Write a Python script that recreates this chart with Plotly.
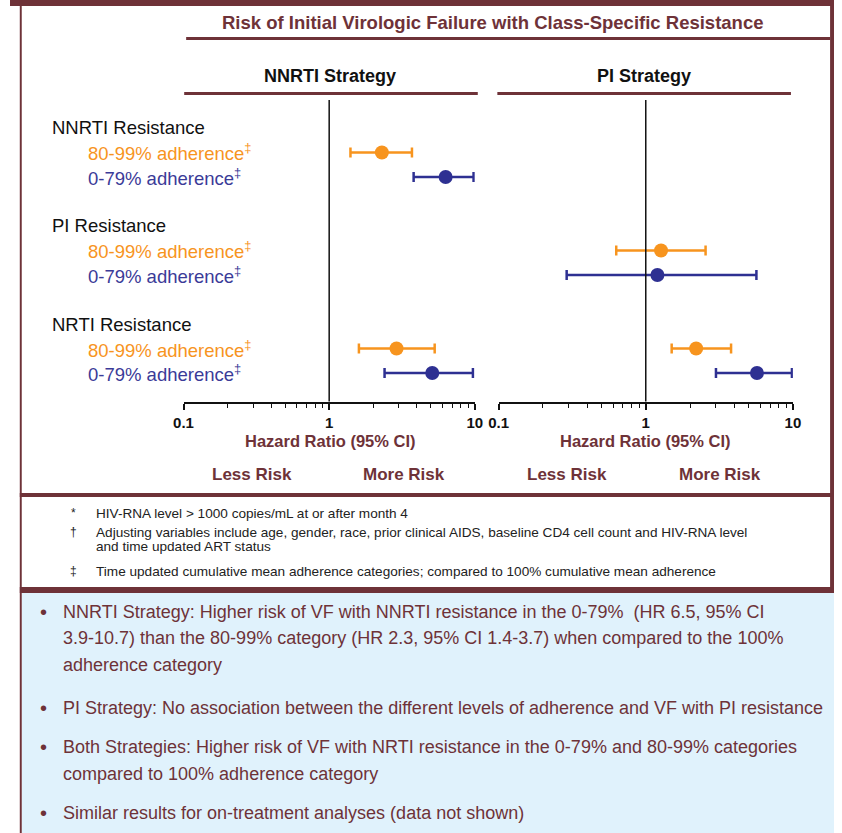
import plotly.graph_objects as go

# ---------------- data ----------------
groups = ["NNRTI Resistance", "PI Resistance", "NRTI Resistance"]
adherence_labels = ["80-99% adherence", "0-79% adherence"]

# NNRTI strategy panel (hazard ratio, lower CI, upper CI) per resistance group
nnrti_hr_80 = [2.3, None, 2.9]
nnrti_lo_80 = [1.4, None, 1.6]
nnrti_hi_80 = [3.7, None, 5.3]
nnrti_hr_0 = [6.3, None, 5.1]
nnrti_lo_0 = [3.8, None, 2.4]
nnrti_hi_0 = [9.8, None, 9.7]

# PI strategy panel
pi_hr_80 = [None, 1.27, 2.2]
pi_lo_80 = [None, 0.63, 1.5]
pi_hi_80 = [None, 2.55, 3.8]
pi_hr_0 = [None, 1.2, 5.7]
pi_lo_0 = [None, 0.29, 3.0]
pi_hi_0 = [None, 5.65, 9.85]

tick_vals = [0.1, 1, 10]
tick_text = ["0.1", "1", "10"]
minor_vals = [0.2, 0.3, 0.4, 0.5, 0.6, 0.7, 0.8, 0.9, 2, 3, 4, 5, 6, 7, 8, 9]

title_text = "Risk of Initial Virologic Failure with Class-Specific Resistance"
panel_titles = ["NNRTI Strategy", "PI Strategy"]
axis_title = "Hazard Ratio (95% CI)"
risk_labels = ["Less Risk", "More Risk"]

footnote_marks = ["*", "†", "‡"]
footnote_lines = [
    ["HIV-RNA level > 1000 copies/mL at or after month 4"],
    ["Adjusting variables include age, gender, race, prior clinical AIDS, baseline CD4 cell count and HIV-RNA level",
     "and time updated ART status"],
    ["Time updated cumulative mean adherence categories; compared to 100% cumulative mean adherence"],
]
bullet_lines = [
    ["NNRTI Strategy: Higher risk of VF with NNRTI resistance in the 0-79%  (HR 6.5, 95% CI",
     "3.9-10.7) than the 80-99% category (HR 2.3, 95% CI 1.4-3.7) when compared to the 100%",
     "adherence category"],
    ["PI Strategy: No association between the different levels of adherence and VF with PI resistance"],
    ["Both Strategies: Higher risk of VF with NRTI resistance in the 0-79% and 80-99% categories",
     "compared to 100% adherence category"],
    ["Similar results for on-treatment analyses (data not shown)"],
]

# ---------------- style ----------------
W, H = 842, 833
MAROON = "#6E3238"
ORANGE = "#F7941E"
BLUE = "#2E3092"
BLUE_TXT = "#3B3B98"
LIGHTBLUE = "#E0F2FC"
NARROW = "Liberation Sans Narrow, Arial Narrow, Liberation Sans, Arial, sans-serif"
SANS = "Liberation Sans, Arial, sans-serif"


def px(x):
    return x / W


def py(y):
    return 1 - y / H


def rows(g):
    return 4 * g, 4 * g + 1, 4 * g + 2


fig = go.Figure()


def add_series(hr, lo, hi, color, offset, xaxis, name):
    ys, xs, plus, minus = [], [], [], []
    for g in range(len(groups)):
        if hr[g] is None:
            continue
        ys.append(rows(g)[offset])
        xs.append(hr[g])
        plus.append(hi[g] - hr[g])
        minus.append(hr[g] - lo[g])
    fig.add_trace(go.Scatter(
        x=xs, y=ys, mode="markers", name=name, xaxis=xaxis, yaxis="y",
        marker=dict(color=color, size=14, line=dict(width=0)),
        error_x=dict(type="data", symmetric=False, array=plus, arrayminus=minus,
                     color=color, thickness=2.5, width=5),
        showlegend=False, hoverinfo="x+y",
    ))


add_series(nnrti_hr_80, nnrti_lo_80, nnrti_hi_80, ORANGE, 1, "x", adherence_labels[0])
add_series(nnrti_hr_0, nnrti_lo_0, nnrti_hi_0, BLUE, 2, "x", adherence_labels[1])
add_series(pi_hr_80, pi_lo_80, pi_hi_80, ORANGE, 1, "x2", adherence_labels[0])
add_series(pi_hr_0, pi_lo_0, pi_hi_0, BLUE, 2, "x2", adherence_labels[1])

axis_common = dict(
    type="log", range=[-1, 1], showgrid=False, zeroline=False,
    showline=True, linecolor="#111", linewidth=2,
    ticks="outside", ticklen=6, tickwidth=1.5, tickcolor="#111",
    tickvals=tick_vals, ticktext=tick_text,
    tickfont=dict(family=NARROW, size=15, color="#111", weight="bold"),
    minor=dict(ticks="outside", ticklen=4, tickwidth=1.2, tickcolor="#111", tickvals=minor_vals, showgrid=False),
    anchor="y", fixedrange=True,
)
y_top, y_bot = 100, 401.5
row_px = 24.5
row0_px = 128

fig.update_layout(
    width=W, height=H,
    margin=dict(l=0, r=0, t=0, b=0),
    paper_bgcolor="white", plot_bgcolor="rgba(0,0,0,0)",
    xaxis=dict(domain=[px(177.3), px(475)], **axis_common),
    xaxis2=dict(domain=[px(499.3), px(800)], **axis_common),
    yaxis=dict(domain=[py(y_bot), py(y_top)],
               range=[(y_bot - row0_px) / row_px, (y_top - row0_px) / row_px],
               visible=False, fixedrange=True),
)

shapes = []


def rect(x0, y0, x1, y1, color):
    shapes.append(dict(type="rect", xref="paper", yref="paper",
                       x0=px(x0), x1=px(x1), y0=py(y1), y1=py(y0),
                       fillcolor=color, line=dict(width=0), layer="below"))


rect(12, 593, W, H, LIGHTBLUE)
rect(0, 0, W, 6, MAROON)
rect(10, 0, 12, H, MAROON)
rect(838, 0, W, 593, MAROON)
rect(180, 37, 838, 40, MAROON)
rect(178, 92, 478, 95, MAROON)
rect(498, 92, 798, 95, MAROON)
rect(10, 493, W, 497, MAROON)
rect(10, 587, W, 593, MAROON)

for xa in ["x", "x2"]:
    shapes.append(dict(type="line", xref=xa, yref="y domain", x0=1, x1=1, y0=0, y1=1,
                       line=dict(color="#111", width=1.5), layer="above"))
fig.update_layout(shapes=shapes)

ann = []


def text(x, y, s, size, color, family=NARROW, bold=False, anchor="center"):
    ann.append(dict(xref="paper", yref="paper", x=px(x), y=py(y), text=s, showarrow=False,
                    xanchor=anchor, yanchor="middle",
                    font=dict(family=family, size=size, color=color, weight="bold" if bold else "normal")))


text(493, 22, title_text, 18.5, MAROON, bold=True)
text(327, 76, panel_titles[0], 18, "#111", bold=True)
text(648, 76, panel_titles[1], 18, "#111", bold=True)

for cx in [327, 649]:
    text(cx, 441, axis_title, 16.5, MAROON, bold=True)
    text(cx - 80, 474, risk_labels[0], 17, MAROON, bold=True)
    text(cx + 76, 474, risk_labels[1], 17, MAROON, bold=True)

for g, name in enumerate(groups):
    r = rows(g)
    ann.append(dict(xref="paper", yref="y", x=px(41), y=r[0], text=name, showarrow=False,
                    xanchor="left", yanchor="middle",
                    font=dict(family=SANS, size=18.5, color="#111")))
    ann.append(dict(xref="paper", yref="y", x=px(78), y=r[1], text=adherence_labels[0] + "<sup>‡</sup>",
                    showarrow=False, xanchor="left", yanchor="middle",
                    font=dict(family=SANS, size=18.5, color=ORANGE)))
    ann.append(dict(xref="paper", yref="y", x=px(78), y=r[2], text=adherence_labels[1] + "<sup>‡</sup>",
                    showarrow=False, xanchor="left", yanchor="middle",
                    font=dict(family=SANS, size=18.5, color=BLUE_TXT)))

foot_y = [[513], [532, 546], [571]]
for mark, lines, ys in zip(footnote_marks, footnote_lines, foot_y):
    text(65, ys[0], mark, 12, "#222")
    for line, yy in zip(lines, ys):
        text(86, yy, line, 13.6, "#222", anchor="left")

bullet_y = [[612, 638, 665], [708], [747, 774], [813]]
for lines, ys in zip(bullet_lines, bullet_y):
    text(34, ys[0], "•", 20, MAROON)
    for line, yy in zip(lines, ys):
        text(52, yy, line, 18, MAROON, anchor="left")

fig.update_layout(annotations=ann)
fig.write_html("out.html", config={"displayModeBar": False},
               post_script="document.body.style.margin='0';")
